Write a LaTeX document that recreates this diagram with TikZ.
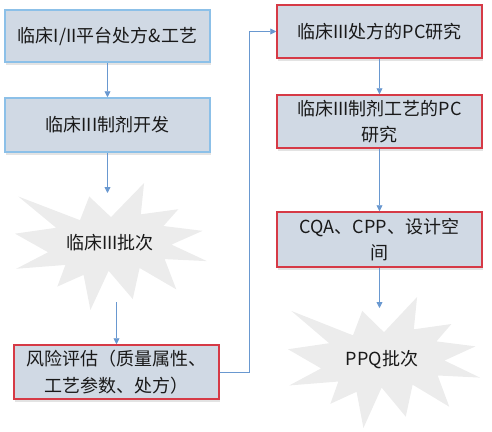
\documentclass[tikz,border=0pt]{standalone}
\usepackage{fontspec}
\setmainfont{Noto Sans CJK SC}
\usetikzlibrary{arrows.meta,shadows}
\definecolor{boxfill}{RGB}{208,217,228}
\definecolor{blueborder}{RGB}{140,192,232}
\definecolor{redborder}{RGB}{214,58,70}
\definecolor{arrowcol}{RGB}{105,152,208}
\definecolor{starfill}{RGB}{236,236,236}
\definecolor{textcol}{RGB}{25,25,25}
\tikzset{
  procbox/.style={rectangle, fill=boxfill, line width=1.5pt, minimum width=205pt,
    text width=197pt, align=center, inner sep=0pt, text=textcol,
    font=\fontsize{18}{26.5}\selectfont,
    drop shadow={opacity=0.22, shadow xshift=1pt, shadow yshift=-2.5pt}},
  bluebox/.style={procbox, draw=blueborder},
  redbox/.style={procbox, draw=redborder},
  startext/.style={font=\fontsize{18}{26.5}\selectfont, inner sep=0pt, text=textcol},
  flow/.style={draw=arrowcol, line width=0.8pt, -{Triangle[width=6pt,length=6pt]}},
  sealshape/.style={fill=starfill, draw=none}
}
\newcommand{\sealpath}{(108,58) -- (145.22,0) -- (141.55,53.25) -- (183.8,44.57) -- (167.02,73.15) -- (210.97,81.37) -- (176.07,104.75) -- (216,132.9) -- (168.37,129.42) -- (181.45,180.95) -- (140.2,144.57) -- (132.47,197.37) -- (105.32,149.35) -- (84.85,216) -- (77.15,156.27) -- (47.62,176.17) -- (56.67,139.37) -- (1.35,145.87) -- (37.22,117.75) -- (0,86.15) -- (46.27,76.17) -- (3.7,22.95) -- (73.12,63.2) -- (83.52,22.95) -- cycle}
\begin{document}
\begin{tikzpicture}[x=1pt,y=-1pt]
\useasboundingbox (0,0) rectangle (492,431);
% stars
\begin{scope}[shift={(15,183)}, xscale=192/216, yscale=127/216]
  \path[sealshape] \sealpath;
\end{scope}
\begin{scope}[shift={(288,297)}, xscale=192/216, yscale=131/216]
  \path[sealshape] \sealpath;
\end{scope}
% boxes
\node[bluebox, minimum height=52pt] (b1) at (107.5,36) {临床I/II平台处方\&工艺};
\node[bluebox, minimum height=54pt] (b2) at (107.5,125) {临床III制剂开发};
\node[startext] (s1) at (110,243) {临床III批次};
\node[redbox, minimum height=54pt] (b5) at (116.5,372) {风险评估（质量属性、\\工艺参数、处方）};
\node[redbox, minimum height=53pt] (b3) at (379.5,31.5) {临床III处方的PC研究};
\node[redbox, minimum height=53pt] (b4) at (379.5,121.5) {临床III制剂工艺的PC\\研究};
\node[redbox, minimum height=55pt] (b6) at (379.5,239.5) {CQA、CPP、设计空\\间};
\node[startext] (s2) at (382,360) {PPQ批次};
% connector end points
\coordinate (s1top) at (107.5,193);
\coordinate (s1bot) at (116.5,302);
\coordinate (s2top) at (379.5,308);
\coordinate (bend) at (249,372);
% connectors
\draw[flow] (b1) -- (b2);
\draw[flow] (b2) -- (s1top);
\draw[flow] (s1bot) -- (b5);
\draw[flow] (b5.east) -- (bend) |- (b3.west);
\draw[flow] (b3) -- (b4);
\draw[flow] (b4) -- (b6);
\draw[flow] (b6) -- (s2top);
\end{tikzpicture}
\end{document}
